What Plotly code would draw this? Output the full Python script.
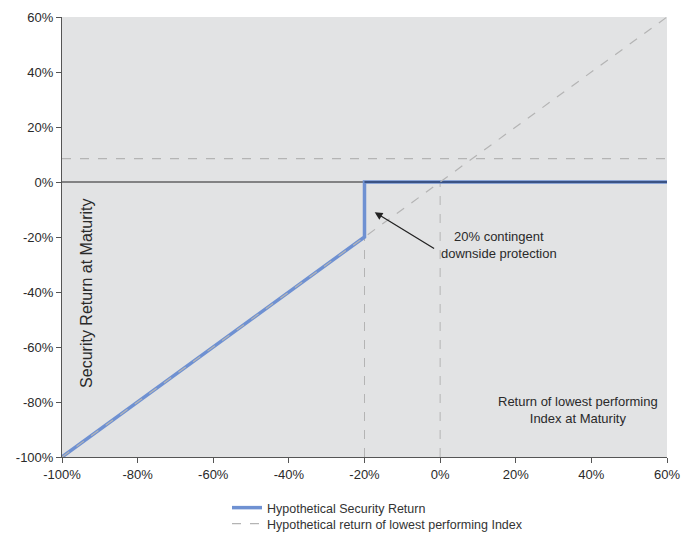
import plotly.graph_objects as go

# Data (percent)
security_x = [-100, -20, -20, 60]
security_y = [-100, -20, 0, 0]
index_x = [-100, 60]
index_y = [-100, 60]
coupon_level = 8.5
barrier_x = -20
x_ticks = [-100, -80, -60, -40, -20, 0, 20, 40, 60]
y_ticks = [-100, -80, -60, -40, -20, 0, 20, 40, 60]
tick_labels = ["-100%", "-80%", "-60%", "-40%", "-20%", "0%", "20%", "40%", "60%"]

FONT = "Liberation Sans Narrow, Arial Narrow, Liberation Sans, Arial, sans-serif"
BLUE = "#6f91d2"
GRAY = "#b4b4b4"
TXT = "#2a2a2a"

fig = go.Figure()

fig.add_trace(go.Scatter(x=[-100, 60], y=[coupon_level, coupon_level], mode="lines",
                         line=dict(color=GRAY, width=1.2, dash="dash"), showlegend=False, hoverinfo="skip"))
fig.add_trace(go.Scatter(x=[barrier_x, barrier_x], y=[-100, barrier_x], mode="lines",
                         line=dict(color=GRAY, width=1, dash="dash"), showlegend=False, hoverinfo="skip"))
fig.add_trace(go.Scatter(x=[0, 0], y=[-100, 0], mode="lines",
                         line=dict(color=GRAY, width=1, dash="dash"), showlegend=False, hoverinfo="skip"))
fig.add_trace(go.Scatter(x=[-100, 60], y=[0, 0], mode="lines",
                         line=dict(color="#222222", width=1.2), showlegend=False, hoverinfo="skip"))

fig.add_trace(go.Scatter(x=security_x, y=security_y, mode="lines", name="Hypothetical Security Return",
                         line=dict(color=BLUE, width=3.5), legend="legend"))
fig.add_trace(go.Scatter(x=[-20, 60], y=[0, 0], mode="lines",
                         line=dict(color="#2a3f6a", width=1.5), showlegend=False, hoverinfo="skip"))
fig.add_trace(go.Scatter(x=index_x, y=index_y, mode="lines", name="Hypothetical return of lowest performing Index",
                         line=dict(color=GRAY, width=1.2, dash="dash"), legend="legend2"))

leg_common = dict(xref="container", yref="container", xanchor="left", yanchor="top",
                  bgcolor="rgba(0,0,0,0)", font=dict(size=12.5, family=FONT, color="#333333"),
                  tracegroupgap=0, itemwidth=30)

fig.update_layout(
    width=691, height=535,
    margin=dict(l=62, r=24, t=17, b=78, autoexpand=False),
    paper_bgcolor="white", plot_bgcolor="#e2e3e4",
    font=dict(family=FONT, size=13, color=TXT),
    showlegend=True,
    legend=dict(x=227 / 691, y=1 - 493 / 535, **leg_common),
    legend2=dict(x=227 / 691, y=1 - 509 / 535, **leg_common),
    xaxis=dict(range=[-100, 60], tickvals=x_ticks, ticktext=tick_labels, showgrid=False, zeroline=False,
               automargin=False, showline=True, linecolor="#555555", linewidth=1, ticks="outside", ticklen=5,
               tickcolor="#555555", tickfont=dict(size=13, family=FONT, color=TXT)),
    yaxis=dict(range=[-100, 60], tickvals=y_ticks, ticktext=tick_labels, showgrid=False, zeroline=False,
               automargin=False, showline=True, linecolor="#555555", linewidth=1, ticks="outside", ticklen=5,
               tickcolor="#555555", tickfont=dict(size=13, family=FONT, color=TXT)),
)

fig.add_annotation(x=-17.3, y=-11, xref="x", yref="y", ax=-1.2, ay=-24.5, axref="x", ayref="y",
                   text="", showarrow=True, arrowhead=2, arrowsize=1.2, arrowwidth=1.3, arrowcolor="#222222")
fig.add_annotation(x=15.5, y=-22.8, xref="x", yref="y", text="20% contingent<br>downside protection",
                   showarrow=False, font=dict(size=13, family=FONT, color=TXT), align="center")
fig.add_annotation(x=36.5, y=-83, xref="x", yref="y", text="Return of lowest performing<br>Index at Maturity",
                   showarrow=False, font=dict(size=13, family=FONT, color=TXT), align="center")
fig.add_annotation(x=-93.7, y=-40.4, xref="x", yref="y", text="Security Return at Maturity", textangle=-90,
                   showarrow=False, font=dict(size=16, family=FONT, color=TXT))

fig.write_html("out.html", config={"displayModeBar": False},
               post_script="document.body.style.margin='0';")
